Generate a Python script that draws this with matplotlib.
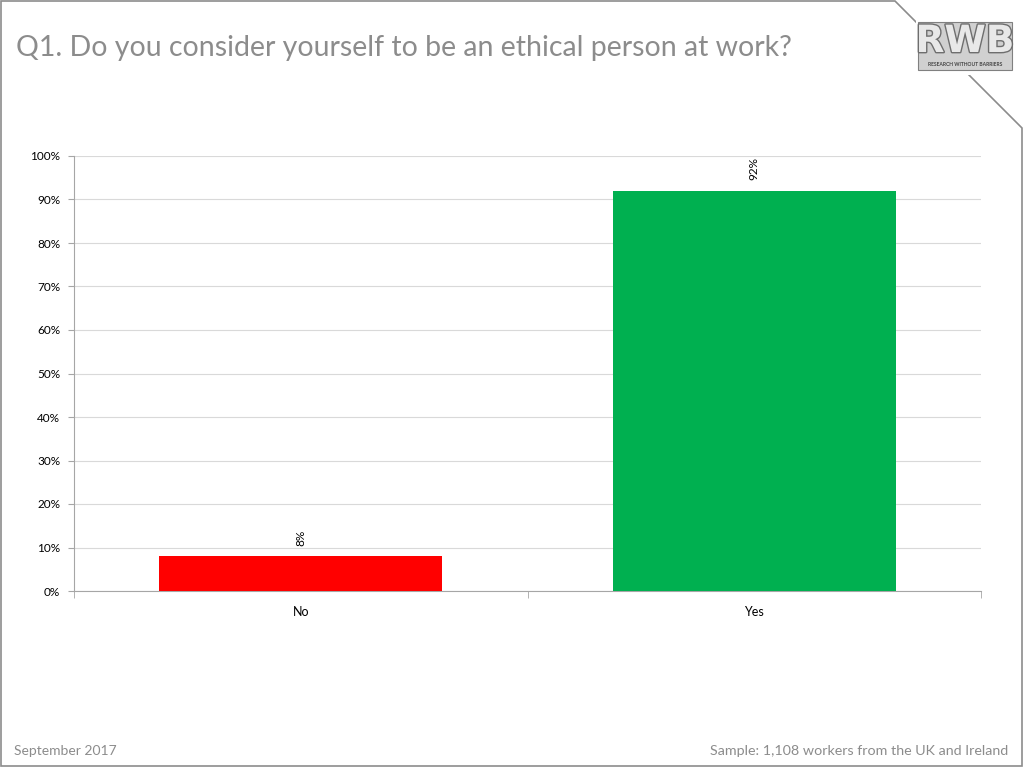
import numpy as np
import matplotlib
matplotlib.use("Agg")
import matplotlib.pyplot as plt
import matplotlib.patheffects as pe
from matplotlib.patches import Polygon

plt.rcParams["font.family"] = ["Lato", "DejaVu Sans"]

categories = ["No", "Yes"]
values = [8, 92]
bar_colors = ["#ff0000", "#00b050"]
y_ticks = [0, 10, 20, 30, 40, 50, 60, 70, 80, 90, 100]

title = "Q1. Do you consider yourself to be an ethical person at work?"
footer_left = "September 2017"
footer_right = "Sample: 1,108 workers from the UK and Ireland"

W, H = 1024, 768
fig = plt.figure(figsize=(W / 100, H / 100), dpi=100)

# slide frame with cut top-right corner
bg = fig.add_axes([0, 0, 1, 1])
bg.set_xlim(0, W)
bg.set_ylim(H, 0)
bg.axis("off")
frame = Polygon([(1, 1), (895, 1), (1022, 128), (1022, 766), (1, 766)],
                closed=True, fill=False, edgecolor="#8c8c8c", linewidth=1.2)
bg.add_patch(frame)

# logo
bg.add_patch(plt.Rectangle((916, 20), 98, 55, facecolor="white", edgecolor="none", zorder=3))
bg.add_patch(plt.Rectangle((918, 22), 94, 48, facecolor="#d0d0d0", edgecolor="#808080",
                           linewidth=0.8, zorder=3))
bg.text(965, 42, "RWB", fontsize=27, fontweight="bold", color="#e8e8e8",
        ha="center", va="center", family="DejaVu Sans", zorder=4,
        path_effects=[pe.withStroke(linewidth=2, foreground="#6e6e6e")])
bg.text(965, 65, "RESEARCH WITHOUT BARRIERS", fontsize=3.6, color="#444444",
        ha="center", va="center", fontweight="bold", zorder=4)

bg.text(16, 48, title, fontsize=20.5, color="#8c8c8c", ha="left", va="center")
bg.text(14, 751, footer_left, fontsize=10, color="#8c8c8c", ha="left", va="center")
bg.text(1008, 751, footer_right, fontsize=10.3, color="#8c8c8c", ha="right", va="center")

# chart area
x0, x1, ytop, ybot = 74, 981, 156, 591
ax = fig.add_axes([x0 / W, 1 - ybot / H, (x1 - x0) / W, (ybot - ytop) / H])
x = np.arange(len(categories))
ax.bar(x, values, width=0.625, color=bar_colors, zorder=3)
ax.set_xlim(-0.5, len(categories) - 0.5)
ax.set_ylim(0, 100)
ax.set_yticks(y_ticks)
ax.set_yticklabels([f"{t}%" for t in y_ticks], fontsize=8.5)
ax.yaxis.grid(True, color="#d9d9d9", linewidth=0.8, zorder=0)
ax.set_xticks(x)
ax.set_xticklabels(categories, fontsize=9)
ax.tick_params(axis="x", length=0, pad=11)
ax.tick_params(axis="y", length=4, color="#a6a6a6", pad=6)
ax.set_xticks(np.arange(-0.5, len(categories), 1), minor=True)
ax.tick_params(axis="x", which="minor", length=5, color="#a6a6a6", direction="out")

for s in ["top", "right"]:
    ax.spines[s].set_visible(False)
for s in ["left", "bottom"]:
    ax.spines[s].set_color("#a6a6a6")

for xi, v in zip(x, values):
    ax.text(xi, v + 2.4, f"{v}%", rotation=90, ha="center", va="bottom", fontsize=8.5)

fig.savefig("out.png", dpi=100)
